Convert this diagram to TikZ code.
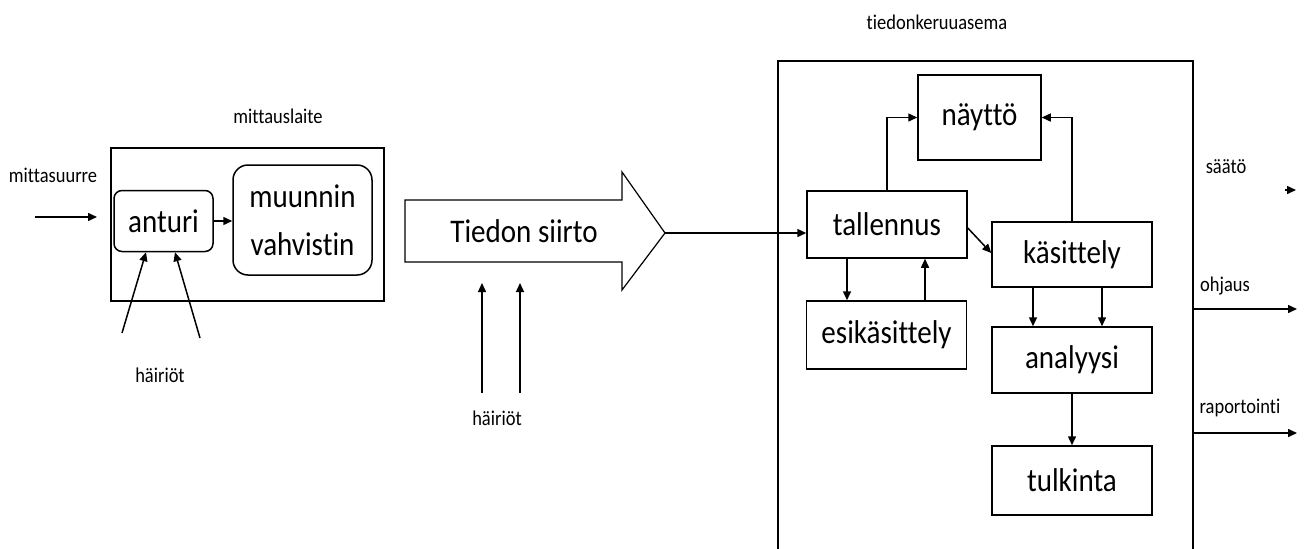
\documentclass[tikz,border=0pt]{standalone}
\usepackage{fontspec}
\setmainfont{Carlito}[FakeStretch=0.88, Ligatures=CommonOff]
\usetikzlibrary{arrows.meta,calc}
\begin{document}
\begin{tikzpicture}[x=1pt,y=-1pt,
  line width=1.5pt,
  >={Triangle[length=9pt,width=8pt]},
  big/.style={font=\fontsize{33}{48}\selectfont},
  small/.style={font=\fontsize{21}{24}\selectfont, inner sep=0pt},
  blk/.style={draw, big, inner sep=0pt, minimum width=#1},
  blk/.default=160pt,
  rblk/.style={draw, big, inner sep=0pt, rounded corners=#1},
]
\useasboundingbox (0,0) rectangle (1307,549);

% --- measuring device ---
\node[draw, minimum width=273pt, minimum height=153pt] (mittauslaite) at (247.5,224.5) {};
\node[small] (lbl-mittauslaite) at (278,116) {mittauslaite};
\node[rblk=8pt, minimum width=99pt, minimum height=61pt] (anturi) at (163.5,221) {anturi};
\node[rblk=15pt, minimum width=139pt, minimum height=110pt, align=center] (muunnin) at (302.5,220) {muunnin\\vahvistin};
\draw[->] (anturi.east) -- (anturi.east -| muunnin.west);

\node[small] (lbl-mittasuurre) at (53,175) {mittasuurre};
\coordinate (in-start) at (35,217);
\coordinate (in-end) at (97,217);
\draw[->] (in-start) -- (in-end);

\coordinate (h1a) at (122,333);
\coordinate (h1b) at (200,338);
\draw[->] (h1a) -- ([xshift=-17.5pt]anturi.south);
\draw[->] (h1b) -- ([xshift=11.5pt]anturi.south);
\node[small] (lbl-hairiot1) at (160,375) {häiriöt};

% --- data transfer arrow ---
\coordinate (tip) at (665,233);
\draw[line width=1.2pt] (405,200) -- (622,200) -- (622,172) -- (tip)
  -- (622,290) -- (622,262) -- (405,262) -- cycle;
\node[big, inner sep=0pt] (siirto) at (524,231) {Tiedon siirto};

\coordinate (h2a) at (482,393);
\coordinate (h2b) at (520,393);
\coordinate (h2a-end) at (482,283);
\coordinate (h2b-end) at (520,283);
\draw[->] (h2a) -- (h2a-end);
\draw[->] (h2b) -- (h2b-end);
\node[small] (lbl-hairiot2) at (497,418) {häiriöt};

% --- data acquisition station ---
\node[small] (lbl-asema) at (937,22) {tiedonkeruuasema};
\coordinate (st-bl) at (778,560);
\coordinate (st-tl) at (778,61);
\coordinate (st-tr) at (1193,61);
\coordinate (st-br) at (1193,560);
\draw (st-bl) -- (st-tl) -- (st-tr) -- (st-br);

\node[blk=123pt, minimum height=85pt] (naytto) at (979.5,117.5) {näyttö};
\node[blk, minimum height=67pt] (tallennus) at (887,224.5) {tallennus};
\node[blk, minimum height=65pt] (kasittely) at (1072,254.5) {käsittely};
\node[blk, minimum height=68pt] (esikasittely) at (886.5,335) {esikäsittely};
\node[blk, minimum height=66pt] (analyysi) at (1072,360) {analyysi};
\node[blk, minimum height=69pt] (tulkinta) at (1072,480.5) {tulkinta};

\draw[->] (tip) -- (tip -| tallennus.west);
\draw[->] (tallennus.north) |- (naytto.west);
\draw[->] (kasittely.north) |- (naytto.east);
\draw[->] ([yshift=-3.5pt]tallennus.east) -- ([yshift=1.5pt]kasittely.west);
\draw[->] ([xshift=-40pt]tallennus.south) -- ([xshift=-39.5pt]esikasittely.north);
\draw[->] ([xshift=38.5pt]esikasittely.north) -- ([xshift=38pt]tallennus.south);
\draw[->] ([xshift=-39pt]kasittely.south) -- ([xshift=-39pt]analyysi.north);
\draw[->] ([xshift=30pt]kasittely.south) -- ([xshift=30pt]analyysi.north);
\draw[->] (analyysi.south) -- (tulkinta.north);

% --- outputs ---
\node[small] (lbl-saato) at (1226,167) {säätö};
\coordinate (saato-a) at (1285,190);
\coordinate (saato-b) at (1296,190);
\draw[->] (saato-a) -- (saato-b);
\node[small] (lbl-ohjaus) at (1225,286) {ohjaus};
\coordinate (ohjaus-a) at (1193,309);
\coordinate (ohjaus-b) at (1297,309);
\draw[->] (ohjaus-a) -- (ohjaus-b);
\node[small] (lbl-raportointi) at (1240,408) {raportointi};
\coordinate (rap-a) at (1193,433);
\coordinate (rap-b) at (1297,433);
\draw[->] (rap-a) -- (rap-b);
\end{tikzpicture}
\end{document}
